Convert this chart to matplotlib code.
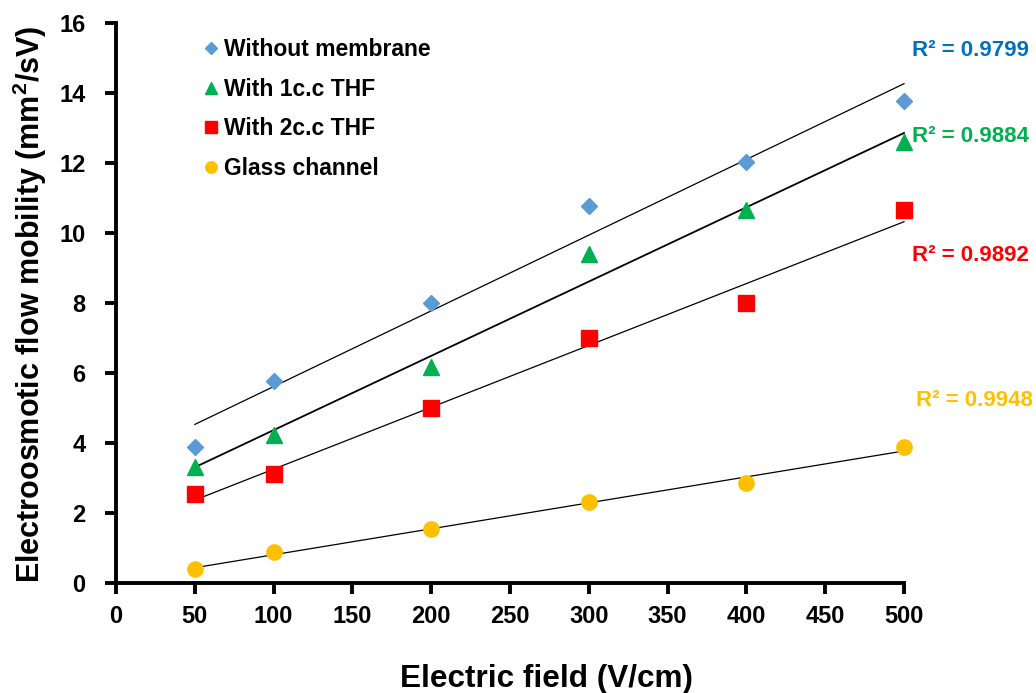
import numpy as np
import matplotlib
matplotlib.use("Agg")
import matplotlib.pyplot as plt

plt.rcParams['font.family'] = ['Liberation Sans', 'DejaVu Sans']
plt.rcParams['font.weight'] = 'bold'
plt.rcParams['mathtext.fontset'] = 'custom'
plt.rcParams['mathtext.bf'] = 'Liberation Sans:bold'
plt.rcParams['mathtext.rm'] = 'Liberation Sans:bold'

field = [50, 100, 200, 300, 400, 500]
without_membrane = [3.89, 5.77, 8.0, 10.77, 12.03, 13.77]
with_1cc_thf = [3.31, 4.23, 6.17, 9.4, 10.66, 12.6]
with_2cc_thf = [2.54, 3.11, 5.0, 7.0, 8.0, 10.66]
glass_channel = [0.4, 0.89, 1.54, 2.31, 2.86, 3.89]

labels = ["Without membrane", "With 1c.c THF", "With 2c.c THF", "Glass channel"]
r2_labels = ["R² = 0.9799", "R² = 0.9884", "R² = 0.9892", "R² = 0.9948"]
x_ticks = [0, 50, 100, 150, 200, 250, 300, 350, 400, 450, 500]
y_ticks = [0, 2, 4, 6, 8, 10, 12, 14, 16]

series = [without_membrane, with_1cc_thf, with_2cc_thf, glass_channel]
markers = ['D', '^', 's', 'o']
msizes = [8, 11, 12, 11]
colors = ['#5B9BD5', '#00B050', '#FF0000', '#FFC000']
r2_colors = ['#0070C0', '#00B050', '#FF0000', '#FFC000']
r2_pos = [(1.010, 15.22), (1.010, 12.77), (1.010, 9.35), (1.015, 5.22)]
line_w = [0.9, 1.3, 0.9, 0.9]

fig = plt.figure(figsize=(10.36, 6.93), dpi=100)
ax = fig.add_axes([0.112, 0.1587, 0.7606, 0.8081])

xs = np.array(field, dtype=float)
for vals, m, ms, c, lab, lw in zip(series, markers, msizes, colors, labels, line_w):
    ax.plot(field, vals, linestyle='none', marker=m, markersize=ms, color=c,
            markeredgecolor=c, label=lab, zorder=3, clip_on=False)
    k, b = np.polyfit(xs, np.array(vals), 1)
    xl = np.array([field[0], field[-1]], dtype=float)
    ax.plot(xl, k * xl + b, color='black', linewidth=lw, zorder=2, clip_on=False)

for txt, c, (xp, yv) in zip(r2_labels, r2_colors, r2_pos):
    ax.text(xp, yv, txt, color=c, fontsize=16, fontweight='bold',
            transform=ax.get_yaxis_transform(), ha='left', va='center', clip_on=False)

ax.set_xlim(0, 500)
ax.set_ylim(0, 16)
ax.set_xticks(x_ticks)
ax.set_yticks(y_ticks)
for s in ['top', 'right']:
    ax.spines[s].set_visible(False)
for s in ['left', 'bottom']:
    ax.spines[s].set_linewidth(2.8)
ax.tick_params(axis='y', direction='out', width=2.8, length=8, labelsize=17, pad=14)
ax.tick_params(axis='x', direction='out', width=2.8, length=8, labelsize=17, pad=8)
for lbl in ax.get_xticklabels() + ax.get_yticklabels():
    lbl.set_fontweight('bold')

ax.set_xlabel("Electric field (V/cm)", fontsize=22.7, fontweight='bold')
ax.xaxis.set_label_coords(0.5465, -0.171)
ax.xaxis.label.set_va('center')
ax.set_ylabel("Electroosmotic flow mobility (mm$^\\mathbf{2}$/sV)", fontsize=22,
              fontweight='bold')
ax.yaxis.set_label_coords(-0.11, 0.498)
ax.yaxis.label.set_va('center')

leg = ax.legend(loc='upper left', bbox_to_anchor=(0.08, 1.01), frameon=False,
                handletextpad=0.05, labelspacing=0.72, handlelength=1.0,
                markerscale=0.75, prop={'weight': 'bold', 'size': 16.5})

fig.savefig("out.png", dpi=100)
